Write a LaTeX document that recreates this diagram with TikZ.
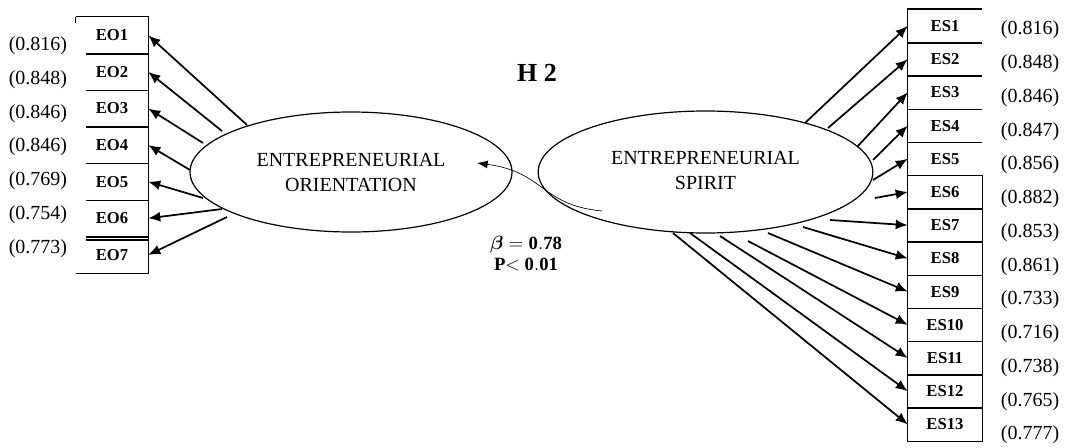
\documentclass[tikz,border=0pt]{standalone}
\usepackage{fontspec}
\setmainfont{Liberation Serif}
\usepackage{amsmath}
\usetikzlibrary{shapes.geometric,arrows.meta}

\begin{document}
\begin{tikzpicture}[x=0.75pt,y=-0.75pt]
		\tikzset{> = {Latex[length=9pt,width=7.5pt]}}
		\tikzset{latent/.style = {draw,ellipse,line width=0.9pt,inner sep=0pt,align=center,font=\fontsize{15}{18.75}\selectfont}}
		\tikzset{item/.style = {inner sep=0pt,font=\fontsize{12.5}{14}\selectfont\bfseries}}
		\tikzset{load/.style = {font=\fontsize{15}{18}\selectfont}}
		\tikzset{frame/.style = {line width=1.1pt}}
		\tikzset{loading/.style = {->,line width=1.3pt}}
		\useasboundingbox (0,0) rectangle (1068,447);
		\node[latent,minimum width=241.5pt,minimum height=90pt] (EO) at (351,172) {ENTREPRENEURIAL\\ORIENTATION};
		\node[latent,minimum width=251pt,minimum height=91.5pt] (ES) at (705.5,172) {\raisebox{4pt}{\begin{tabular}{@{}c@{}}ENTREPRENEURIAL\\SPIRIT\end{tabular}}};
		\foreach \i/\v in {1/0.816,2/0.848,3/0.846,4/0.846,5/0.769,6/0.754,7/0.773}{
			\node[item,minimum width=54pt,minimum height=27.45pt] (eo\i) at (112,{35.3+36.6*(\i-1)}) {EO\i};
			\node[load] (eov\i) at (38,{46+33.7*(\i-1)}) {(\v)};
		}
		\draw[frame] (eo1.north west) -- (eo1.north east) -- (eo7.south east) -- (eo7.south west);
		\draw[frame] (eo1.north west) -- +(0,6);
		\foreach \i in {1,...,6}
			\draw[frame] ([xshift=7.5pt]eo\i.south west) -- (eo\i.south east);
		\draw[frame] ([xshift=7.5pt,yshift=-2.25pt]eo6.south west) -- ([yshift=-2.25pt]eo6.south east);
		\foreach \i/\sx/\sy in {1/247/125,2/222/131,3/203/143,4/190/170,5/203/198,6/222/209,7/227/217}{
			\coordinate (eot\i) at (\sx,\sy);
			\draw[loading] (eot\i) -- (eo\i.east);
		}
		\foreach \i/\v in {1/0.816,2/0.848,3/0.846,4/0.847,5/0.856,6/0.882,7/0.853,8/0.861,9/0.733,10/0.716,11/0.738,12/0.765,13/0.777}{
			\node[item,minimum width=55.5pt,minimum height=24.9pt] (es\i) at (945,{26+33.2*(\i-1)}) {ES\i};
			\node[load] (esv\i) at (1030,{30+33.75*(\i-1)}) {(\v)};
		}
		\draw[frame] (es1.north east) -- (es1.north west) -- (es13.south west) -- (es13.south east) -- (es6.north east);
		\foreach \i in {1,...,12}
			\draw[frame] (es\i.south west) -- (es\i.south east);
		\foreach \i/\sx/\sy in {1/805/123,2/828/128,3/857/147,4/873/160,5/873/180,6/875/198,7/830/220,8/803/227,9/768/233,10/748/241,11/720/236,12/690/233,13/673/233}{
			\coordinate (est\i) at (\sx,\sy);
			\draw[loading] (est\i) -- (es\i.west);
		}
		\coordinate (bs) at (602,211);
		\coordinate (be) at (477,163);
		\draw[->,line width=0.5pt,>={Latex[length=8pt,width=6pt]}] (bs) .. controls (540,205) and (545,172) .. (be);
		\node[font=\fontsize{19.5}{22}\selectfont\bfseries] (hyp) at (537,73) {H 2};
		\node[font=\fontsize{14}{16}\selectfont\bfseries,align=center] (beta) at (526,253.5) {$\boldsymbol{\beta}=\mathbf{0.78}$\\P$<$ $\mathbf{0.01}$};
	\end{tikzpicture}
\end{document}
